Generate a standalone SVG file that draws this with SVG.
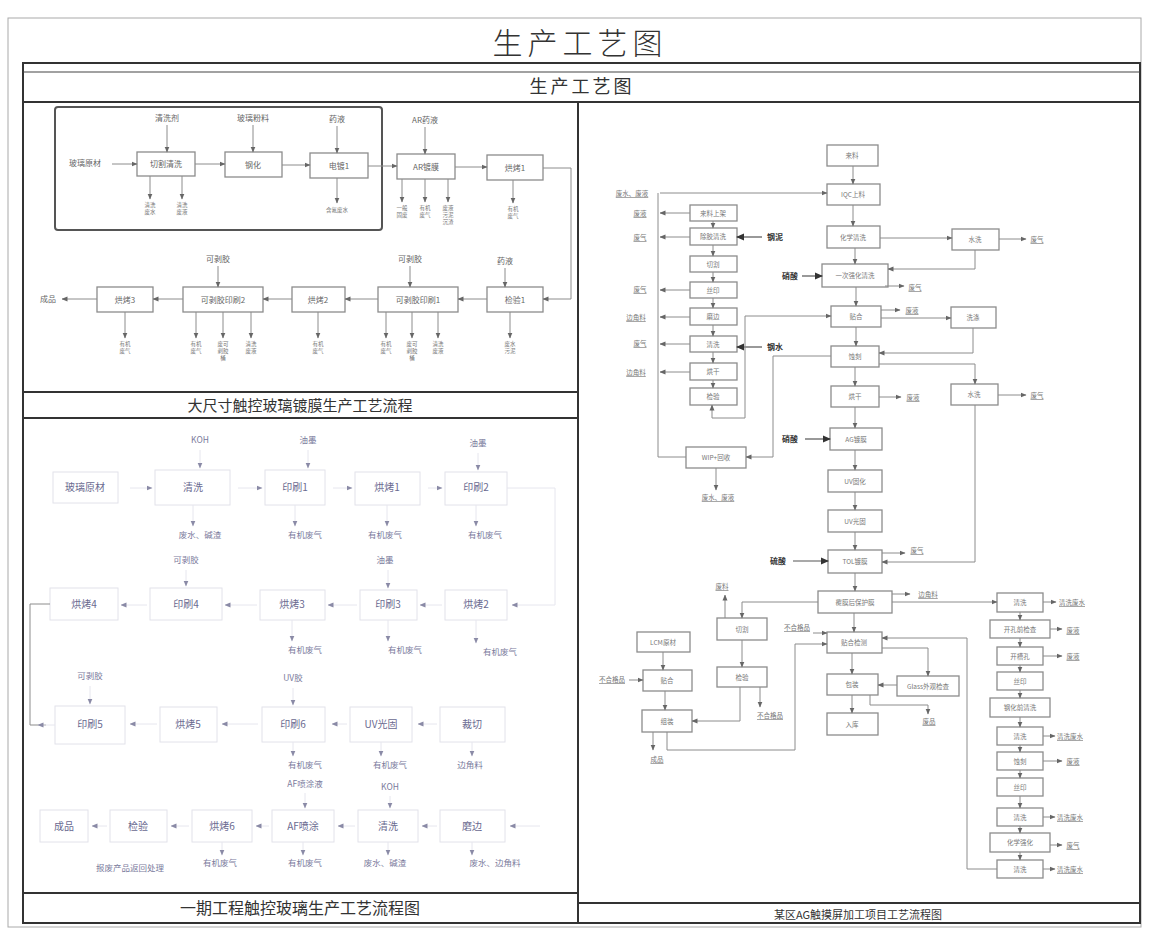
<svg xmlns="http://www.w3.org/2000/svg" width="1152" height="929" viewBox="0 0 1152 929">
<defs>
<marker id="a" markerWidth="6" markerHeight="6" refX="5.5" refY="3" orient="auto" markerUnits="userSpaceOnUse"><path d="M0,0.5 L6,3 L0,5.5 z" fill="#666"/></marker>
<marker id="a2" markerWidth="6" markerHeight="6" refX="5.5" refY="3" orient="auto" markerUnits="userSpaceOnUse"><path d="M0,0.5 L6,3 L0,5.5 z" fill="#8a8aa6"/></marker>
<marker id="ab" markerWidth="8" markerHeight="8" refX="7" refY="4" orient="auto" markerUnits="userSpaceOnUse"><path d="M0,0.5 L8,4 L0,7.5 z" fill="#333"/></marker>
<style>
text{font-family:"Noto Sans CJK SC","Noto Sans",sans-serif}
.fr{fill:none;stroke:#333;stroke-width:2}
.fl{fill:none;stroke:#444;stroke-width:1.2}
.b{fill:#fff;stroke:#8c8c8c;stroke-width:1.3}
.g{fill:none;stroke:#555;stroke-width:2}
.lb{fill:#fff;stroke:#e2e2ea;stroke-width:1}
.c{fill:none;stroke:#8c8c8c;stroke-width:1;marker-end:url(#a)}
.cb{fill:none;stroke:#555;stroke-width:1.2;marker-end:url(#ab)}
.cl{fill:none;stroke:#e6e6ee;stroke-width:1;marker-end:url(#a2)}
.n{fill:none;stroke:#8c8c8c;stroke-width:1}
.t{font-size:8px;fill:#666;text-anchor:middle}
.ts{font-size:5.5px;fill:#777;text-anchor:middle}
.tr{font-size:6.5px;fill:#777;text-anchor:middle}
.u{text-decoration:underline}
.tk{font-size:8px;font-weight:bold;fill:#333;text-anchor:middle}
.tb{font-size:10px;fill:#6a6a90;text-anchor:middle}
.tbs{font-size:8.5px;fill:#7a7a9c;text-anchor:middle}
.h{text-anchor:middle;fill:#333}
</style>
</defs>
<rect width="1152" height="929" fill="#fff"/>

<g id="frame">
<rect x="8" y="18" width="1133" height="909" fill="none" stroke="#aaa" stroke-width="1"/>
<text x="580" y="54" class="h" font-size="30" font-weight="300" letter-spacing="5">生产工艺图</text>
<rect x="23" y="63" width="1117" height="860" class="fr"/>
<line x1="23" y1="72" x2="1140" y2="72" class="fl"/>
<line x1="23" y1="102" x2="1140" y2="102" class="fr"/>
<text x="582" y="93" class="h" font-size="18" letter-spacing="3">生产工艺图</text>
<line x1="578" y1="102" x2="578" y2="923" class="fr"/>
<line x1="23" y1="392" x2="578" y2="392" class="fr"/>
<line x1="23" y1="418" x2="578" y2="418" class="fr"/>
<text x="300" y="411" class="h" font-size="15" fill="#444">大尺寸触控玻璃镀膜生产工艺流程</text>
<line x1="23" y1="893" x2="578" y2="893" class="fr"/>
<text x="300" y="914" class="h" font-size="16">一期工程触控玻璃生产工艺流程图</text>
<line x1="578" y1="903" x2="1140" y2="903" class="fr"/>
<text x="858" y="919" class="h" font-size="11" fill="#555">某区AG触摸屏加工项目工艺流程图</text>
</g>

<!-- ============ TOP-LEFT PANEL ============ -->
<g id="tl-group"><rect x="55" y="107" width="327" height="123" rx="3" class="g"/></g>
<g id="tl-raw"><text x="85" y="166" class="t">玻璃原材</text></g>
<g id="tl-n1"><rect x="137" y="152" width="58" height="24" class="b"/><text x="166" y="167" class="t">切割清洗</text></g>
<g id="tl-n2"><rect x="225" y="152" width="57" height="25" class="b"/><text x="253" y="168" class="t">钢化</text></g>
<g id="tl-n3"><rect x="310" y="153" width="58" height="25" class="b"/><text x="339" y="169" class="t">电镀1</text></g>
<g id="tl-n4"><rect x="397" y="154" width="58" height="25" class="b"/><text x="426" y="170" class="t">AR镀膜</text></g>
<g id="tl-n5"><rect x="487" y="155" width="56" height="25" class="b"/><text x="515" y="171" class="t">烘烤1</text></g>
<g id="tl-n6"><rect x="487" y="287" width="56" height="25" class="b"/><text x="515" y="303" class="t">检验1</text></g>
<g id="tl-n7"><rect x="378" y="287" width="80" height="25" class="b"/><text x="418" y="303" class="t">可剥胶印刷1</text></g>
<g id="tl-n8"><rect x="292" y="287" width="53" height="25" class="b"/><text x="318" y="303" class="t">烘烤2</text></g>
<g id="tl-n9"><rect x="183" y="287" width="80" height="25" class="b"/><text x="223" y="303" class="t">可剥胶印刷2</text></g>
<g id="tl-n10"><rect x="97" y="287" width="56" height="25" class="b"/><text x="125" y="303" class="t">烘烤3</text></g>
<g id="tl-out"><text x="48" y="302" class="t">成品</text></g>

<g id="tl-labels">
<text x="167" y="121" class="t">清洗剂</text>
<text x="253" y="121" class="t">玻璃粉料</text>
<text x="337" y="122" class="t">药液</text>
<text x="425" y="123" class="t">AR药液</text>
<text x="505" y="264" class="t">药液</text>
<text x="410" y="262" class="t">可剥胶</text>
<text x="218" y="262" class="t">可剥胶</text>
<text x="150" y="207" class="ts">清洗</text><text x="150" y="214" class="ts">废水</text>
<text x="182" y="207" class="ts">清洗</text><text x="182" y="214" class="ts">废液</text>
<text x="337" y="212" class="ts">含氟废水</text>
<text x="402" y="210" class="ts">一般</text><text x="402" y="217" class="ts">固废</text>
<text x="425" y="210" class="ts">有机</text><text x="425" y="217" class="ts">废气</text>
<text x="448" y="210" class="ts">废液</text><text x="448" y="217" class="ts">污泥</text>
<text x="448" y="224" class="ts">沉渣</text>
<text x="513" y="211" class="ts">有机</text><text x="513" y="218" class="ts">废气</text>
<text x="125" y="346" class="ts">有机</text><text x="125" y="353" class="ts">废气</text>
<text x="196" y="346" class="ts">有机</text><text x="196" y="353" class="ts">废气</text>
<text x="223" y="346" class="ts">废可</text><text x="223" y="353" class="ts">剥胶</text><text x="223" y="360" class="ts">桶</text>
<text x="251" y="346" class="ts">清洗</text><text x="251" y="353" class="ts">废液</text>
<text x="318" y="346" class="ts">有机</text><text x="318" y="353" class="ts">废气</text>
<text x="386" y="346" class="ts">有机</text><text x="386" y="353" class="ts">废气</text>
<text x="412" y="346" class="ts">废可</text><text x="412" y="353" class="ts">剥胶</text><text x="412" y="360" class="ts">桶</text>
<text x="438" y="346" class="ts">清洗</text><text x="438" y="353" class="ts">废液</text>
<text x="510" y="346" class="ts">废水</text><text x="510" y="353" class="ts">污泥</text>
</g>

<g id="tl-connectors">
<path d="M112,164 H137" class="c"/>
<path d="M195,164 H225" class="c"/>
<path d="M282,165 H310" class="c"/>
<path d="M368,166 H397" class="c"/>
<path d="M455,167 H487" class="c"/>
<path d="M543,168 H571 V299 H543" class="c"/>
<path d="M487,299 H458" class="c"/>
<path d="M378,299 H345" class="c"/>
<path d="M292,299 H263" class="c"/>
<path d="M183,299 H153" class="c"/>
<path d="M97,299 H62" class="c"/>
<path d="M167,125 V152" class="c"/>
<path d="M253,125 V152" class="c"/>
<path d="M337,126 V153" class="c"/>
<path d="M425,127 V154" class="c"/>
<path d="M505,268 V287" class="c"/>
<path d="M410,266 V287" class="c"/>
<path d="M218,266 V287" class="c"/>
<path d="M150,176 V199" class="c"/><path d="M182,176 V199" class="c"/>
<path d="M337,178 V203" class="c"/>
<path d="M402,179 V202" class="c"/><path d="M425,179 V202" class="c"/><path d="M448,179 V202" class="c"/>
<path d="M513,180 V203" class="c"/>
<path d="M125,312 V338" class="c"/>
<path d="M196,312 V338" class="c"/><path d="M223,312 V338" class="c"/><path d="M251,312 V338" class="c"/>
<path d="M318,312 V338" class="c"/>
<path d="M386,312 V338" class="c"/><path d="M412,312 V338" class="c"/><path d="M438,312 V338" class="c"/>
<path d="M510,312 V338" class="c"/>
</g>

<!-- ============ BOTTOM-LEFT PANEL ============ -->
<g id="bl-r1a"><rect x="53" y="472" width="65" height="31" class="lb"/><text x="85" y="491" class="tb">玻璃原材</text></g>
<g id="bl-r1b"><rect x="155" y="470" width="75" height="35" class="lb"/><text x="193" y="491" class="tb">清洗</text></g>
<g id="bl-r1c"><rect x="265" y="470" width="60" height="35" class="lb"/><text x="295" y="491" class="tb">印刷1</text></g>
<g id="bl-r1d"><rect x="355" y="472" width="65" height="33" class="lb"/><text x="387" y="491" class="tb">烘烤1</text></g>
<g id="bl-r1e"><rect x="445" y="472" width="62" height="33" class="lb"/><text x="476" y="491" class="tb">印刷2</text></g>

<g id="bl-r2a"><rect x="50" y="588" width="68" height="32" class="lb"/><text x="84" y="608" class="tb">烘烤4</text></g>
<g id="bl-r2b"><rect x="150" y="588" width="72" height="32" class="lb"/><text x="186" y="608" class="tb">印刷4</text></g>
<g id="bl-r2c"><rect x="260" y="590" width="65" height="30" class="lb"/><text x="292" y="608" class="tb">烘烤3</text></g>
<g id="bl-r2d"><rect x="360" y="590" width="57" height="30" class="lb"/><text x="388" y="608" class="tb">印刷3</text></g>
<g id="bl-r2e"><rect x="445" y="590" width="62" height="30" class="lb"/><text x="476" y="608" class="tb">烘烤2</text></g>

<g id="bl-r3a"><rect x="55" y="706" width="70" height="38" class="lb"/><text x="90" y="728" class="tb">印刷5</text></g>
<g id="bl-r3b"><rect x="160" y="707" width="57" height="35" class="lb"/><text x="188" y="728" class="tb">烘烤5</text></g>
<g id="bl-r3c"><rect x="262" y="707" width="63" height="35" class="lb"/><text x="293" y="728" class="tb">印刷6</text></g>
<g id="bl-r3d"><rect x="350" y="707" width="62" height="35" class="lb"/><text x="381" y="728" class="tb">UV光固</text></g>
<g id="bl-r3e"><rect x="440" y="707" width="65" height="35" class="lb"/><text x="472" y="728" class="tb">裁切</text></g>

<g id="bl-r4a"><rect x="40" y="810" width="48" height="32" class="lb"/><text x="64" y="830" class="tb">成品</text></g>
<g id="bl-r4b"><rect x="110" y="810" width="57" height="32" class="lb"/><text x="138" y="830" class="tb">检验</text></g>
<g id="bl-r4c"><rect x="192" y="810" width="60" height="32" class="lb"/><text x="222" y="830" class="tb">烘烤6</text></g>
<g id="bl-r4d"><rect x="272" y="810" width="62" height="32" class="lb"/><text x="303" y="830" class="tb">AF喷涂</text></g>
<g id="bl-r4e"><rect x="358" y="810" width="60" height="32" class="lb"/><text x="388" y="830" class="tb">清洗</text></g>
<g id="bl-r4f"><rect x="440" y="810" width="65" height="32" class="lb"/><text x="472" y="830" class="tb">磨边</text></g>

<g id="bl-labels">
<text x="200" y="443" class="tbs">KOH</text>
<text x="308" y="443" class="tbs">油墨</text>
<text x="478" y="446" class="tbs">油墨</text>
<text x="200" y="538" class="tbs">废水、碱渣</text>
<text x="305" y="538" class="tbs">有机废气</text>
<text x="385" y="538" class="tbs">有机废气</text>
<text x="485" y="538" class="tbs">有机废气</text>
<text x="186" y="563" class="tbs">可剥胶</text>
<text x="385" y="563" class="tbs">油墨</text>
<text x="305" y="653" class="tbs">有机废气</text>
<text x="405" y="653" class="tbs">有机废气</text>
<text x="500" y="655" class="tbs">有机废气</text>
<text x="90" y="679" class="tbs">可剥胶</text>
<text x="293" y="681" class="tbs">UV胶</text>
<text x="305" y="768" class="tbs">有机废气</text>
<text x="390" y="768" class="tbs">有机废气</text>
<text x="470" y="768" class="tbs">边角料</text>
<text x="305" y="787" class="tbs">AF喷涂液</text>
<text x="390" y="790" class="tbs">KOH</text>
<text x="130" y="871" class="tbs">报废产品返回处理</text>
<text x="220" y="866" class="tbs">有机废气</text>
<text x="305" y="866" class="tbs">有机废气</text>
<text x="385" y="866" class="tbs">废水、碱渣</text>
<text x="495" y="866" class="tbs">废水、边角料</text>
</g>

<g id="bl-connectors">
<path d="M130,488 H152" class="cl"/>
<path d="M238,488 H262" class="cl"/>
<path d="M333,488 H352" class="cl"/>
<path d="M428,488 H442" class="cl"/>
<path d="M507,488 H555 V605 H512" class="cl"/>
<path d="M442,605 H420" class="cl"/>
<path d="M357,605 H328" class="cl"/>
<path d="M257,605 H225" class="cl"/>
<path d="M147,605 H121" class="cl"/>
<path d="M50,604 H30 V725 H46" class="n" stroke="#f0f0f4"/>
<path d="M437,724 H418" class="cl"/>
<path d="M347,724 H332" class="cl"/>
<path d="M258,724 H222" class="cl"/>
<path d="M157,724 H130" class="cl"/>
<path d="M55,725 H38" class="cl"/>
<path d="M540,826 H510" class="cl"/>
<path d="M437,826 H422" class="cl"/>
<path d="M355,826 H338" class="cl"/>
<path d="M269,826 H256" class="cl"/>
<path d="M189,826 H171" class="cl"/>
<path d="M107,826 H92" class="cl"/>
<path d="M200,450 V468" class="cl"/>
<path d="M308,450 V468" class="cl"/>
<path d="M478,453 V470" class="cl"/>
<path d="M193,505 V526" class="cl"/>
<path d="M295,505 V526" class="cl"/>
<path d="M387,505 V526" class="cl"/>
<path d="M476,505 V526" class="cl"/>
<path d="M186,570 V586" class="cl"/>
<path d="M388,570 V588" class="cl"/>
<path d="M292,620 V641" class="cl"/>
<path d="M388,620 V641" class="cl"/>
<path d="M476,620 V643" class="cl"/>
<path d="M90,686 V704" class="cl"/>
<path d="M293,688 V705" class="cl"/>
<path d="M293,742 V756" class="cl"/>
<path d="M381,742 V756" class="cl"/>
<path d="M472,742 V756" class="cl"/>
<path d="M305,793 V808" class="cl"/>
<path d="M390,796 V808" class="cl"/>
<path d="M222,842 V855" class="cl"/>
<path d="M303,842 V855" class="cl"/>
<path d="M388,842 V855" class="cl"/>
<path d="M472,842 V855" class="cl"/>
</g>

<!-- ============ RIGHT PANEL ============ -->
<g id="r1"><rect x="827" y="145" width="51" height="21" class="b"/><text x="852" y="158" class="tr">来料</text></g>
<g id="r2"><rect x="827" y="184" width="53" height="21" class="b"/><text x="853" y="197" class="tr">IQC上料</text></g>
<g id="r3"><rect x="827" y="226" width="53" height="22" class="b"/><text x="853" y="240" class="tr">化学清洗</text></g>
<g id="r3b"><rect x="952" y="229" width="47" height="21" class="b"/><text x="975" y="242" class="tr">水洗</text></g>
<g id="r4"><rect x="822" y="264" width="66" height="23" class="b"/><text x="855" y="278" class="tr">一次强化清洗</text></g>
<g id="r5"><rect x="831" y="306" width="50" height="21" class="b"/><text x="856" y="319" class="tr">贴合</text></g>
<g id="r5b"><rect x="951" y="307" width="45" height="21" class="b"/><text x="973" y="320" class="tr">洗涤</text></g>
<g id="r6"><rect x="831" y="346" width="48" height="21" class="b"/><text x="855" y="359" class="tr">蚀刻</text></g>
<g id="r6b"><rect x="951" y="384" width="47" height="21" class="b"/><text x="974" y="397" class="tr">水洗</text></g>
<g id="r7"><rect x="831" y="386" width="48" height="21" class="b"/><text x="855" y="399" class="tr">烘干</text></g>
<g id="r8"><rect x="830" y="428" width="52" height="22" class="b"/><text x="856" y="442" class="tr">AG镀膜</text></g>
<g id="r9"><rect x="828" y="470" width="54" height="22" class="b"/><text x="855" y="484" class="tr">UV固化</text></g>
<g id="r10"><rect x="828" y="510" width="54" height="22" class="b"/><text x="855" y="524" class="tr">UV光固</text></g>
<g id="r11"><rect x="828" y="550" width="54" height="23" class="b"/><text x="855" y="564" class="tr">TOL镀膜</text></g>
<g id="r12"><rect x="818" y="591" width="74" height="22" class="b"/><text x="855" y="605" class="tr">覆膜后保护膜</text></g>
<g id="r13"><rect x="827" y="632" width="55" height="21" class="b"/><text x="854" y="645" class="tr">贴合检测</text></g>
<g id="r14"><rect x="827" y="674" width="51" height="21" class="b"/><text x="852" y="687" class="tr">包装</text></g>
<g id="r15"><rect x="897" y="676" width="62" height="20" class="b"/><text x="928" y="689" class="tr">Glass外观检查</text></g>
<g id="r16"><rect x="827" y="713" width="51" height="22" class="b"/><text x="852" y="727" class="tr">入库</text></g>

<g id="l1"><rect x="690" y="205" width="47" height="16" class="b"/><text x="713" y="216" class="tr">来料上架</text></g>
<g id="l2"><rect x="690" y="228" width="47" height="17" class="b"/><text x="713" y="239" class="tr">除胶清洗</text></g>
<g id="l3"><rect x="690" y="256" width="47" height="16" class="b"/><text x="713" y="267" class="tr">切割</text></g>
<g id="l4"><rect x="690" y="282" width="47" height="16" class="b"/><text x="713" y="293" class="tr">丝印</text></g>
<g id="l5"><rect x="690" y="308" width="47" height="17" class="b"/><text x="713" y="319" class="tr">磨边</text></g>
<g id="l6"><rect x="690" y="336" width="47" height="16" class="b"/><text x="713" y="347" class="tr">清洗</text></g>
<g id="l7"><rect x="690" y="363" width="47" height="17" class="b"/><text x="713" y="374" class="tr">烘干</text></g>
<g id="l8"><rect x="690" y="388" width="47" height="17" class="b"/><text x="713" y="399" class="tr">检验</text></g>
<g id="l9"><rect x="686" y="447" width="60" height="21" class="b"/><text x="716" y="460" class="tr">WIP+回收</text></g>

<g id="q1"><rect x="637" y="632" width="53" height="20" class="b"/><text x="663" y="645" class="tr">LCM原材</text></g>
<g id="q2"><rect x="643" y="670" width="49" height="21" class="b"/><text x="667" y="683" class="tr">贴合</text></g>
<g id="q3"><rect x="642" y="710" width="50" height="22" class="b"/><text x="667" y="724" class="tr">组装</text></g>
<g id="q4"><rect x="717" y="618" width="50" height="22" class="b"/><text x="742" y="632" class="tr">切割</text></g>
<g id="q5"><rect x="717" y="667" width="50" height="20" class="b"/><text x="742" y="680" class="tr">检验</text></g>

<g id="s1"><rect x="997" y="593" width="46" height="19" class="b"/><text x="1020" y="605" class="tr">清洗</text></g>
<g id="s2"><rect x="990" y="620" width="60" height="18" class="b"/><text x="1020" y="632" class="tr">开孔前检查</text></g>
<g id="s3"><rect x="997" y="647" width="46" height="18" class="b"/><text x="1020" y="659" class="tr">开槽孔</text></g>
<g id="s4"><rect x="997" y="672" width="46" height="18" class="b"/><text x="1020" y="684" class="tr">丝印</text></g>
<g id="s5"><rect x="990" y="698" width="60" height="19" class="b"/><text x="1020" y="710" class="tr">钢化前清洗</text></g>
<g id="s6"><rect x="997" y="727" width="46" height="18" class="b"/><text x="1020" y="739" class="tr">清洗</text></g>
<g id="s7"><rect x="997" y="752" width="46" height="18" class="b"/><text x="1020" y="764" class="tr">蚀刻</text></g>
<g id="s8"><rect x="997" y="778" width="46" height="18" class="b"/><text x="1020" y="790" class="tr">丝印</text></g>
<g id="s9"><rect x="997" y="808" width="46" height="18" class="b"/><text x="1020" y="820" class="tr">清洗</text></g>
<g id="s10"><rect x="990" y="833" width="60" height="19" class="b"/><text x="1020" y="845" class="tr">化学强化</text></g>
<g id="s11"><rect x="997" y="860" width="46" height="18" class="b"/><text x="1020" y="872" class="tr">清洗</text></g>

<g id="r-labels">
<text x="632" y="196" class="tr u">废水、废液</text>
<text x="640" y="216" class="tr u">废液</text>
<text x="640" y="240" class="tr u">废气</text>
<text x="640" y="292" class="tr u">废气</text>
<text x="636" y="320" class="tr u">边角料</text>
<text x="640" y="346" class="tr u">废气</text>
<text x="636" y="375" class="tr u">边角料</text>
<text x="775" y="240" class="tk">钢泥</text>
<text x="775" y="350" class="tk">钢水</text>
<text x="790" y="279" class="tk">硝酸</text>
<text x="790" y="442" class="tk">硝酸</text>
<text x="778" y="564" class="tk">硫酸</text>
<text x="1037" y="242" class="tr u">废气</text>
<text x="915" y="290" class="tr u">废气</text>
<text x="912" y="313" class="tr u">废液</text>
<text x="1037" y="398" class="tr u">废气</text>
<text x="913" y="400" class="tr u">废液</text>
<text x="917" y="553" class="tr u">废气</text>
<text x="928" y="597" class="tr u">边角料</text>
<text x="718" y="500" class="tr u">废水、废液</text>
<text x="722" y="589" class="tr u">废料</text>
<text x="612" y="682" class="tr u">不合格品</text>
<text x="797" y="630" class="tr u">不合格品</text>
<text x="770" y="718" class="tr u">不合格品</text>
<text x="657" y="762" class="tr u">成品</text>
<text x="929" y="724" class="tr u">废品</text>
<text x="1072" y="605" class="tr u">清洗废水</text>
<text x="1073" y="633" class="tr u">废液</text>
<text x="1073" y="659" class="tr u">废液</text>
<text x="1070" y="739" class="tr u">清洗废水</text>
<text x="1073" y="764" class="tr u">废液</text>
<text x="1070" y="820" class="tr u">清洗废水</text>
<text x="1073" y="848" class="tr u">废气</text>
<text x="1070" y="872" class="tr u">清洗废水</text>
</g>

<g id="r-connectors">
<path d="M853,166 V184" class="c"/>
<path d="M853,205 V226" class="c"/>
<path d="M855,248 V264" class="c"/>
<path d="M856,287 V306" class="c"/>
<path d="M856,327 V346" class="c"/>
<path d="M855,367 V386" class="c"/>
<path d="M855,407 V428" class="c"/>
<path d="M855,450 V470" class="c"/>
<path d="M855,492 V510" class="c"/>
<path d="M855,532 V550" class="c"/>
<path d="M855,573 V591" class="c"/>
<path d="M854,613 V632" class="c"/>
<path d="M852,653 V674" class="c"/>
<path d="M852,695 V713" class="c"/>
<path d="M880,238 H952" class="c"/>
<path d="M999,239 H1026" class="c"/>
<path d="M975,250 V269 H888" class="c"/>
<path d="M802,276 H822" class="cb"/>
<path d="M885,286 H904" class="c"/>
<path d="M881,310 H900" class="c"/>
<path d="M881,318 H951" class="c"/>
<path d="M973,328 V353 H879" class="c"/>
<path d="M879,364 H975 V384" class="c"/>
<path d="M998,395 H1026" class="c"/>
<path d="M879,397 H901" class="c"/>
<path d="M805,439 H830" class="cb"/>
<path d="M793,561 H828" class="cb"/>
<path d="M882,553 H905" class="c"/>
<path d="M975,405 V562 H882" class="c"/>
<path d="M892,594 H910" class="c"/>
<path d="M892,602 H997" class="c"/>
<path d="M818,602 H742 V618" class="c"/>
<path d="M725,618 V595" class="c"/>
<path d="M742,640 V667" class="c"/>
<path d="M740,687 V721 H692" class="c"/>
<path d="M760,687 V707" class="c"/>
<path d="M663,652 V670" class="c"/>
<path d="M665,691 V710" class="c"/>
<path d="M629,680 H643" class="c"/>
<path d="M653,732 V750" class="c"/>
<path d="M667,732 V750 H795 V644 H827" class="c"/>
<path d="M813,633 H827" class="c"/>
<path d="M882,648 H928 V676" class="c"/>
<path d="M897,685 H878" class="c"/>
<path d="M870,695 V705 H928 V714" class="c"/>
<path d="M997,869 H967 V638 H882" class="c"/>
<path d="M1020,612 V620" class="c"/>
<path d="M1020,638 V647" class="c"/>
<path d="M1020,665 V672" class="c"/>
<path d="M1020,690 V698" class="c"/>
<path d="M1020,717 V727" class="c"/>
<path d="M1020,745 V752" class="c"/>
<path d="M1020,770 V778" class="c"/>
<path d="M1020,796 V808" class="c"/>
<path d="M1020,826 V833" class="c"/>
<path d="M1020,852 V860" class="c"/>
<path d="M1043,602 H1056" class="c"/>
<path d="M1050,629 H1062" class="c"/>
<path d="M1043,656 H1062" class="c"/>
<path d="M1043,736 H1055" class="c"/>
<path d="M1043,761 H1062" class="c"/>
<path d="M1043,817 H1055" class="c"/>
<path d="M1050,845 H1062" class="c"/>
<path d="M1043,869 H1055" class="c"/>
<path d="M660,193 H827" class="c"/>
<path d="M658,193 V457 H686" class="n"/>
<path d="M690,213 H660" class="c"/>
<path d="M690,237 H660" class="c"/>
<path d="M690,290 H660" class="c"/>
<path d="M690,317 H660" class="c"/>
<path d="M690,344 H660" class="c"/>
<path d="M690,372 H660" class="c"/>
<path d="M713,221 V228" class="c"/>
<path d="M713,245 V256" class="c"/>
<path d="M713,272 V282" class="c"/>
<path d="M713,298 V308" class="c"/>
<path d="M713,325 V336" class="c"/>
<path d="M713,352 V363" class="c"/>
<path d="M713,380 V388" class="c"/>
<path d="M762,237 H737" class="cb"/>
<path d="M762,347 H737" class="cb"/>
<path d="M745,316 H831" class="c"/>
<path d="M745,316 V418 H712 V405" class="c"/>
<path d="M831,356 H773 V457 H746" class="c"/>
<path d="M716,468 V490" class="c"/>
</g>
</svg>
